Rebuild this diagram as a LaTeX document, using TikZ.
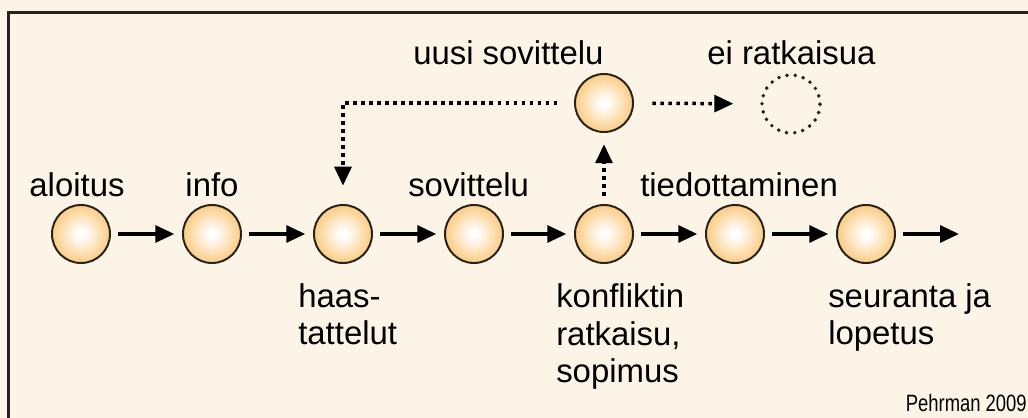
\documentclass[tikz,border=0pt]{standalone}
\usepackage{fontspec}
\setmainfont{Liberation Sans}
\newfontfamily\condfont[FakeStretch=0.78]{Liberation Sans}
\usetikzlibrary{arrows.meta}
\definecolor{paper}{RGB}{252,244,230}
\definecolor{frame}{RGB}{38,34,28}
\definecolor{ball}{RGB}{250,182,80}
\pgfdeclareradialshading{ballfill}{\pgfpoint{0bp}{0bp}}{color(0bp)=(white); color(4bp)=(white!97!ball); color(34bp)=(ball); color(50bp)=(ball)}

\begin{document}
\begin{tikzpicture}[x=0.025cm,y=-0.025cm]
        \tikzset{stage/.style={circle, draw=frame, line width=1.4pt, inner sep=0pt, minimum size=1.45cm, shading=ballfill}}
        \tikzset{open/.style={circle, draw=frame, line width=2.8pt, inner sep=0pt, minimum size=1.45cm, line cap=round, dash pattern=on 0pt off 5.87pt}}
        \tikzset{flow/.style={-{Triangle[length=13.5pt,width=12pt]}, line width=2.5pt, shorten <=5pt, shorten >=5.5pt}}
        \tikzset{maybe/.style={flow, dash pattern=on 2.5pt off 3.2pt}}
        \tikzset{lbl/.style={font=\fontsize{23.4}{27}\selectfont, inner sep=0pt, align=left}}
        \useasboundingbox (0,0) rectangle (1028,418);
        \fill[paper] (0,0) rectangle (1028,418);
        \draw[frame, line width=2.1pt] (1028,12.5) -- (8.5,12.5) -- (8.5,418);
        % main row
        \node[stage] (aloitus) at (81,234) {};
        \node[stage] (info) at (212,234) {};
        \node[stage] (haast) at (343,234) {};
        \node[stage] (sovit) at (474,234) {};
        \node[stage] (ratk) at (604,234) {};
        \node[stage] (tiedo) at (735,234) {};
        \node[stage] (seur) at (866,234) {};
        \coordinate (loppu) at (959,234);
        % upper row
        \node[stage] (uusi) at (604,103) {};
        \node[open] (ei) at (791,104) {};
        \node[lbl, anchor=base] (l1) at (77,197) {aloitus};
        \node[lbl, anchor=base] (l2) at (212,197) {info};
        \node[lbl, anchor=base west] (l3) at (298,345) {haas-\\tattelut};
        \node[lbl, anchor=base west] (l4) at (408,197) {sovittelu};
        \node[lbl, anchor=base west] (l5) at (556,383) {konfliktin\\ratkaisu,\\sopimus};
        \node[lbl, anchor=base west] (l6) at (640,197) {tiedottaminen};
        \node[lbl, anchor=base west] (l7) at (828,345) {seuranta ja\\lopetus};
        \node[lbl, anchor=base west] (l8) at (413,65) {uusi sovittelu};
        \node[lbl, anchor=base west] (l9) at (707,65) {ei ratkaisua};
        \node[font=\condfont\fontsize{16.8}{20}\selectfont, inner sep=0pt, anchor=base east] (lahde) at (1027,412) {Pehrman 2009};
        \draw[flow] (aloitus) -- (info);
        \draw[flow] (info) -- (haast);
        \draw[flow] (haast) -- (sovit);
        \draw[flow] (sovit) -- (ratk);
        \draw[flow] (ratk) -- (tiedo);
        \draw[flow] (tiedo) -- (seur);
        \draw[flow, shorten >=0pt] (seur) -- (loppu);
        \draw[maybe, shorten <=6pt, shorten >=8pt] (ratk) -- (uusi);
        \draw[maybe, shorten <=13pt, shorten >=19pt] (uusi) -- (ei);
        \draw[maybe, shorten <=12pt, shorten >=13pt] (uusi) -| (haast);
\end{tikzpicture}
\end{document}
